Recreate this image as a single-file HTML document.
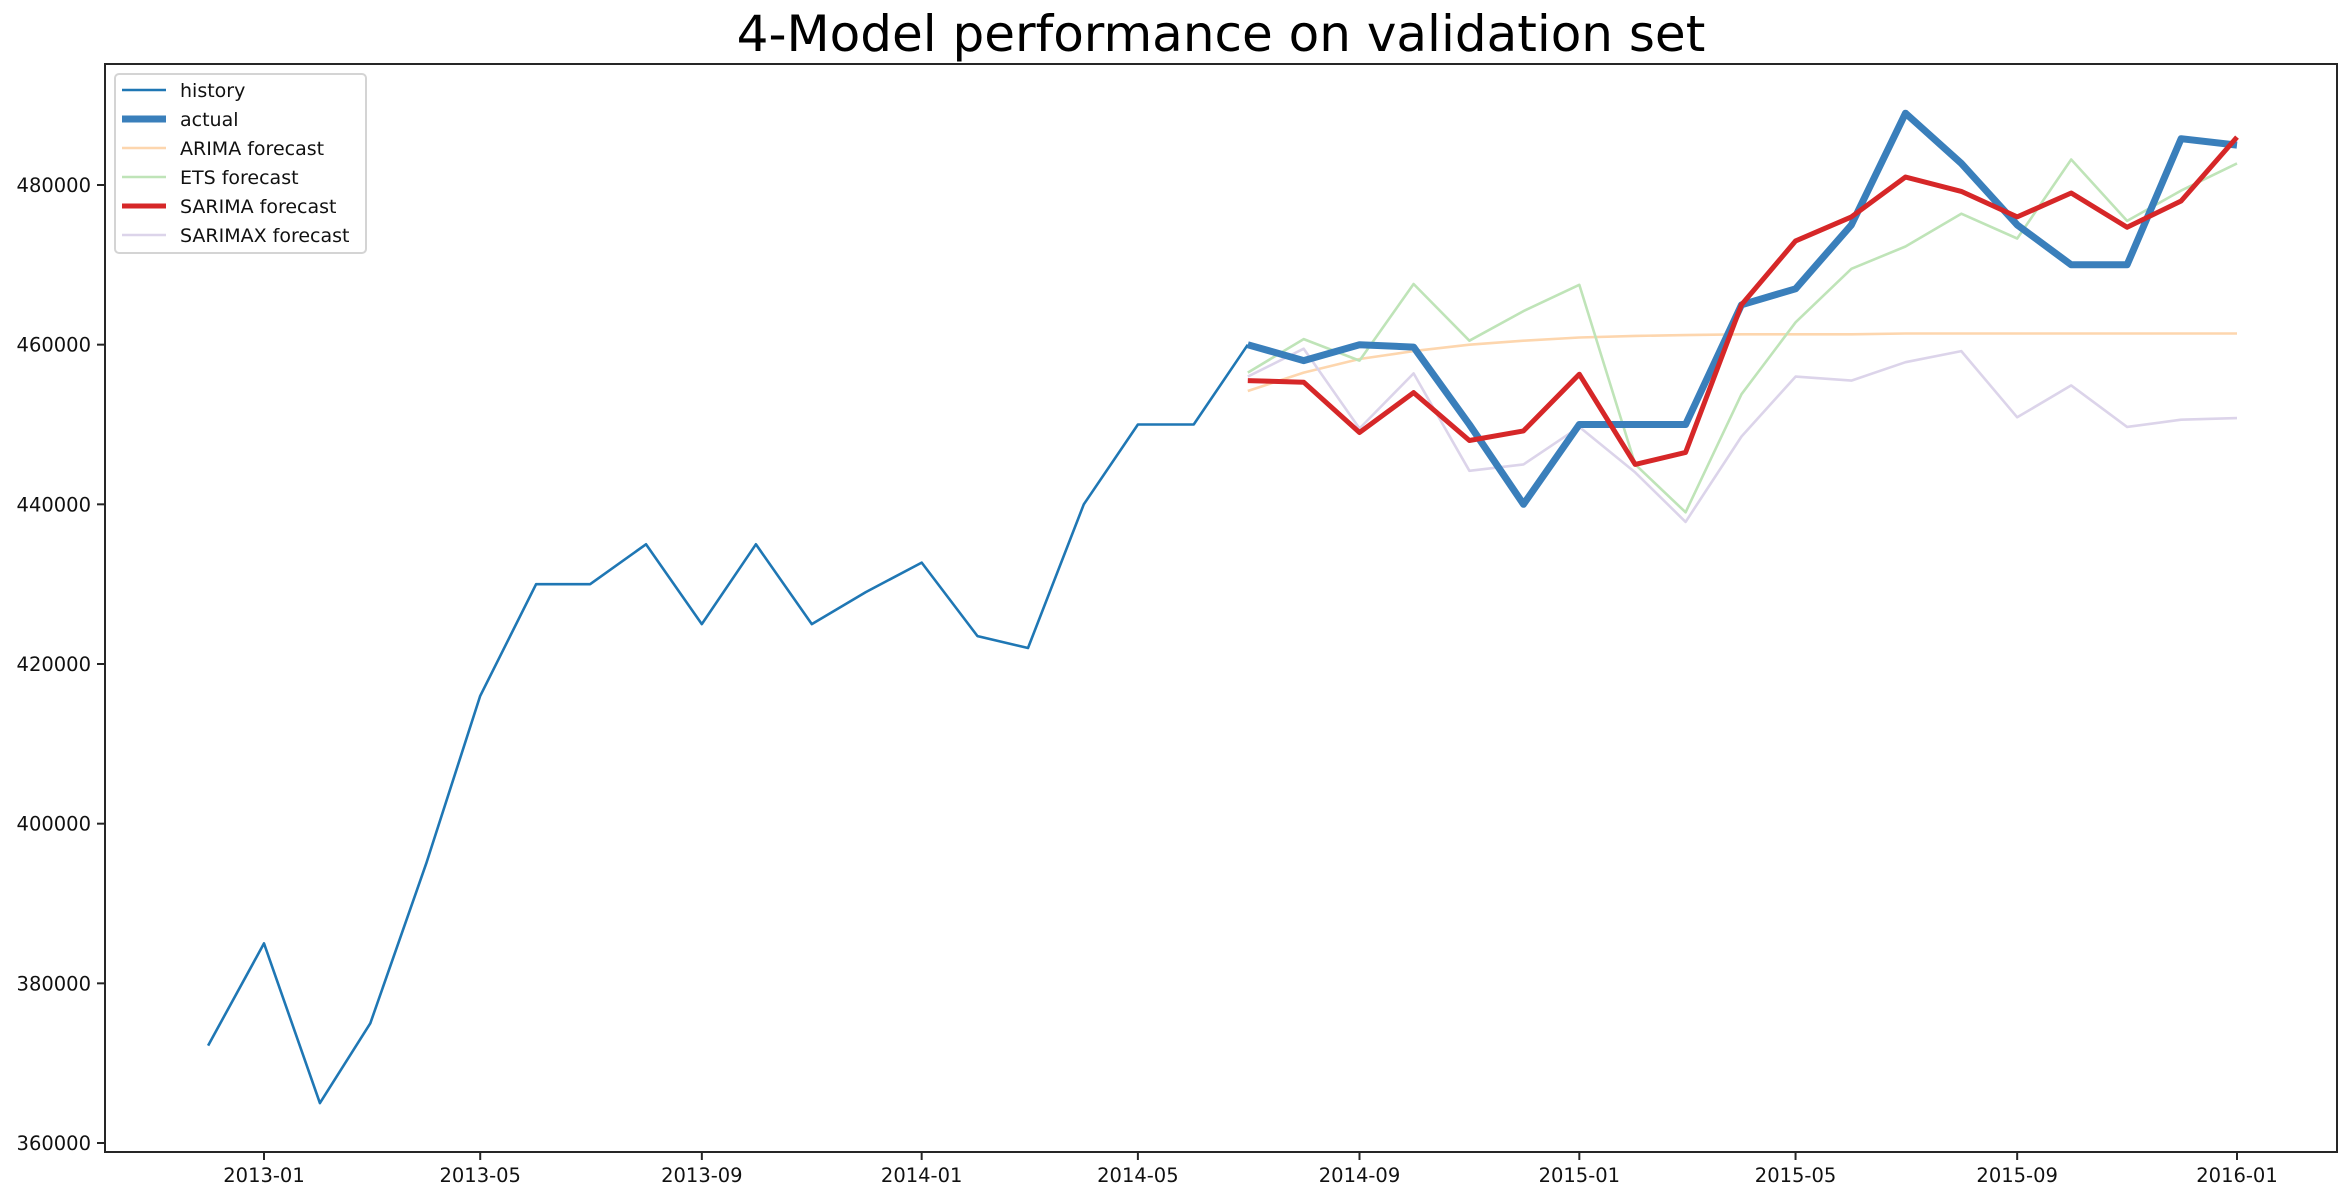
<!DOCTYPE html>
<html><head><meta charset="utf-8"><style>
body{margin:0;background:#fff;}
text{font-family:"DejaVu Sans","Liberation Sans",sans-serif;}
</style></head><body>
<svg id="chart" width="2351" height="1199" xmlns="http://www.w3.org/2000/svg">
<text x="1221" y="51" font-size="50" text-anchor="middle">4-Model performance on validation set</text>
<g id="grid"></g>
<g id="series"></g>
<rect x="105" y="64" width="2232" height="1088" fill="none" stroke="#262626" stroke-width="2"/>
<g id="axes"></g>
<g id="legend"></g>
</svg>
<script>
const historyDates = ["2012-12","2013-01","2013-02","2013-03","2013-04","2013-05","2013-06","2013-07","2013-08","2013-09","2013-10","2013-11","2013-12","2014-01","2014-02","2014-03","2014-04","2014-05","2014-06","2014-07"];
const historyValues = [372200,385000,365000,375000,395000,416000,430000,430000,435000,425000,435000,425000,429000,432700,423500,422000,440000,450000,450000,460000];
const forecastDates = ["2014-07","2014-08","2014-09","2014-10","2014-11","2014-12","2015-01","2015-02","2015-03","2015-04","2015-05","2015-06","2015-07","2015-08","2015-09","2015-10","2015-11","2015-12","2016-01"];
const actualValues = [460000,458000,460000,459700,450000,440000,450000,450000,450000,465000,467000,475000,489000,482700,475000,470000,470000,485800,485000];
const arimaValues = [454200,456500,458200,459200,460000,460500,460900,461100,461200,461300,461300,461300,461400,461400,461400,461400,461400,461400,461400];
const etsValues = [456500,460700,458000,467600,460500,464200,467500,445000,439000,453800,462800,469500,472300,476400,473300,483200,475500,479300,482700];
const sarimaValues = [455500,455300,449000,454000,448000,449200,456300,445000,446500,465000,473000,476000,481000,479200,476000,479000,474700,478000,486000];
const sarimaxValues = [456000,459500,449500,456400,444200,445000,449700,444000,437800,448500,456000,455500,457800,459200,450900,454900,449700,450600,450800];
const yTicks = [360000,380000,400000,420000,440000,460000,480000];
const xTicks = ["2013-01","2013-05","2013-09","2014-01","2014-05","2014-09","2015-01","2015-05","2015-09","2016-01"];

const NS="http://www.w3.org/2000/svg";
const t0=Date.UTC(2013,0,1);
function days(s){const [y,m]=s.split("-").map(Number);return (Date.UTC(y,m-1,1)-t0)/86400000;}
function xs(s){return 264+days(s)*(2237-264)/1095;}
function ys(v){return 1143-(v-360000)*(1143-185)/120000;}
function mk(tag,attrs,parent){const e=document.createElementNS(NS,tag);for(const k in attrs)e.setAttribute(k,attrs[k]);parent.appendChild(e);return e;}
const axes=document.getElementById("axes"),series=document.getElementById("series"),legend=document.getElementById("legend");
yTicks.forEach(v=>{
  const y=ys(v);
  const l=mk("line",{x1:97,x2:105,y1:y,y2:y,stroke:"#262626","stroke-width":2},axes);
  
  
  const t=mk("text",{x:91,y:y+7,"font-size":19.5,"text-anchor":"end",fill:"#111"},axes);
  t.textContent=String(v);
  
  
});
xTicks.forEach(s=>{
  const x=xs(s);
  const l=mk("line",{x1:x,x2:x,y1:1152,y2:1160,stroke:"#262626","stroke-width":2},axes);
  
  
  const t=mk("text",{x:x,y:1182,"font-size":19.5,"text-anchor":"middle",fill:"#111"},axes);
  t.textContent=s;
  
  
});
const defs=[
 {name:"history",dates:historyDates,vals:historyValues,color:"#1f77b4",w:2.6},
 {name:"actual",dates:forecastDates,vals:actualValues,color:"#3a7fbb",w:7},
 {name:"ARIMA forecast",dates:forecastDates,vals:arimaValues,color:"#fdd6ae",w:2.6},
 {name:"ETS forecast",dates:forecastDates,vals:etsValues,color:"#bfe4b8",w:2.6},
 {name:"SARIMA forecast",dates:forecastDates,vals:sarimaValues,color:"#d62728",w:5},
 {name:"SARIMAX forecast",dates:forecastDates,vals:sarimaxValues,color:"#dcd4ea",w:2.6}
];
const order=[0,2,3,5,1,4];
order.forEach(i=>{
  const d=defs[i];
  const pts=d.dates.map((s,j)=>xs(s).toFixed(1)+","+ys(d.vals[j]).toFixed(1)).join(" ");
  const p=mk("polyline",{points:pts,fill:"none",stroke:d.color,"stroke-width":d.w,"stroke-linejoin":"round"},series);
  
  
});
const box=mk("rect",{x:115,y:74,width:251,height:179,rx:4,fill:"#fff","fill-opacity":0.85,stroke:"#d4d4d4","stroke-width":2},legend);


defs.forEach((d,i)=>{
  const y=90+i*29;
  const g=mk("g",{},legend);
  
  
  mk("line",{x1:122,x2:166,y1:y,y2:y,stroke:d.color,"stroke-width":d.w},g);
  const t=mk("text",{x:180,y:y+7,"font-size":19,fill:"#111"},g);
  t.textContent=d.name;
});
</script>
</body></html>
